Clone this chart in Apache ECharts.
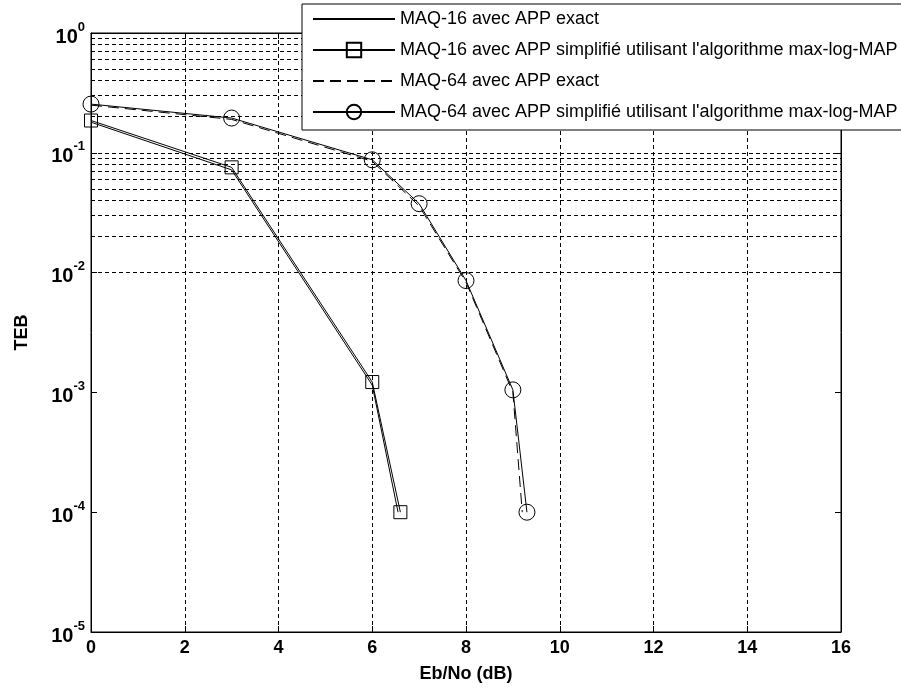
<!DOCTYPE html>
<html>
<head>
<meta charset="utf-8">
<script src="https://cdn.jsdelivr.net/npm/echarts@6/dist/echarts.min.js"></script>
<style>
html,body{margin:0;padding:0;background:#fff;}
#chart{width:901px;height:688px;}
</style>
</head>
<body>
<div id="chart"></div>
<script>
// ---- data ----
const xTicks = [0, 2, 4, 6, 8, 10, 12, 14, 16];
const yDecades = [1e-5, 1e-4, 1e-3, 1e-2, 1e-1, 1];

const seriesNames = [
  'MAQ-16 avec APP exact',
  "MAQ-16 avec APP simplifié utilisant l'algorithme max-log-MAP",
  'MAQ-64 avec APP exact',
  "MAQ-64 avec APP simplifié utilisant l'algorithme max-log-MAP"
];

const snr16Exact = [0, 3, 6, 6.55];
const ber16Exact = [0.18, 0.072, 0.00115, 1.0e-4];
const snr16Max = [0, 3, 6, 6.6];
const ber16Max = [0.186, 0.0756, 0.00122, 1.0e-4];

const snr64Exact = [0, 3, 6, 7, 8, 9, 9.2];
const ber64Exact = [0.25, 0.19, 0.085, 0.036, 0.0083, 0.001, 1.0e-4];
const snr64Max = [0, 3, 6, 7, 8, 9, 9.3];
const ber64Max = [0.255, 0.195, 0.0874, 0.0376, 0.00858, 0.00105, 1.0e-4];

// horizontal grid lines (major decades + minor 2..9 per decade)
const hGrid = [];
for (let k = -5; k <= -1; k++) {
  for (let m = 1; m <= 9; m++) {
    const v = m * Math.pow(10, k);
    if (v > 1e-5) hGrid.push(v);
  }
}
const vGrid = xTicks.filter(v => v > 0 && v < 16);

function pairs(xs, ys) { return xs.map((x, i) => [x, ys[i]]); }

const FONT = '"Liberation Sans", Arial, Helvetica, sans-serif';
const chart = echarts.init(document.getElementById('chart'), null, {renderer: 'canvas'});

const gridLineStyle = {color: '#000', width: 1, type: [4, 3]};
const hidden = {color: 'rgba(0,0,0,0)', borderColor: 'rgba(0,0,0,0)', borderWidth: 0};

chart.setOption({
  backgroundColor: '#fff',
  animation: false,
  textStyle: {fontFamily: FONT, color: '#000'},
  grid: {left: 91, right: 60, top: 33, bottom: 55, show: true, borderColor: '#000', borderWidth: 1, backgroundColor: 'transparent'},
  legend: {
    zlevel: 1, z: 10,
    orient: 'vertical',
    left: 302, top: 4,
    backgroundColor: '#fff',
    borderColor: '#000', borderWidth: 1,
    padding: [6, 12, 9, 10],
    itemWidth: 82, itemHeight: 18, itemGap: 13,
    textStyle: {fontFamily: FONT, fontSize: 18, color: '#000', lineHeight: 18},
    data: seriesNames,
    selectedMode: false
  },
  xAxis: [{
    type: 'value', min: 0, max: 16, interval: 2,
    axisLine: {show: true, onZero: false, lineStyle: {color: '#000', width: 1}},
    axisTick: {show: true, inside: true, length: 6, lineStyle: {color: '#000'}},
    axisLabel: {color: '#000', fontFamily: FONT, fontWeight: 'bold', fontSize: 18, margin: 7},
    splitLine: {show: false},
    name: 'Eb/No (dB)', nameLocation: 'middle', nameGap: 33,
    nameTextStyle: {fontFamily: FONT, fontWeight: 'bold', fontSize: 18, color: '#000'}
  }, {
    type: 'value', min: 0, max: 16, interval: 2, position: 'top',
    axisLine: {show: true, onZero: false, lineStyle: {color: '#000'}},
    axisTick: {show: true, inside: true, length: 6, lineStyle: {color: '#000'}},
    axisLabel: {show: false}, splitLine: {show: false}
  }],
  yAxis: [{
    type: 'log', logBase: 10, min: 1e-5, max: 1,
    axisLine: {show: true, onZero: false, lineStyle: {color: '#000', width: 1}},
    axisTick: {show: true, inside: true, length: 6, lineStyle: {color: '#000'}},
    axisLabel: {
      color: '#000', margin: 6,
      formatter: function (v) {
        const e = Math.round(Math.log10(v));
        return '{b|10}{s|' + e + '}';
      },
      rich: {
        b: {fontFamily: FONT, fontWeight: 'bold', fontSize: 20, color: '#000', padding: [8, 0, 0, 0]},
        s: {fontFamily: FONT, fontWeight: 'bold', fontSize: 13, color: '#000', padding: [0, 0, 12, 0]}
      }
    },
    splitLine: {show: false},
    name: 'TEB', nameLocation: 'middle', nameGap: 60, nameRotate: 90,
    nameTextStyle: {fontFamily: FONT, fontWeight: 'bold', fontSize: 18, color: '#000'}
  }, {
    type: 'log', logBase: 10, min: 1e-5, max: 1, position: 'right',
    axisLine: {show: true, onZero: false, lineStyle: {color: '#000'}},
    axisTick: {show: true, inside: true, length: 6, lineStyle: {color: '#000'}},
    axisLabel: {show: false}, splitLine: {show: false}
  }],
  series: [
    {
      name: '__grid', type: 'line', data: [], silent: true,
      markLine: {
        silent: true, symbol: ['none', 'none'], animation: false,
        label: {show: false},
        lineStyle: gridLineStyle,
        data: hGrid.map(v => ({yAxis: v})).concat(vGrid.map(v => ({xAxis: v})))
      }
    },
    {
      name: seriesNames[0], type: 'line', data: pairs(snr16Exact, ber16Exact),
      symbol: 'circle', showSymbol: false, symbolSize: 0,
      lineStyle: {color: '#000', width: 1, type: 'solid'},
      itemStyle: hidden, z: 3
    },
    {
      name: seriesNames[1], type: 'line', data: pairs(snr16Max, ber16Max),
      symbol: 'rect', symbolSize: 13,
      lineStyle: {color: '#000', width: 1},
      itemStyle: {color: 'rgba(0,0,0,0)', borderColor: '#000', borderWidth: 1}, z: 4
    },
    {
      name: seriesNames[2], type: 'line', data: pairs(snr64Exact, ber64Exact),
      symbol: 'circle', showSymbol: false, symbolSize: 0,
      lineStyle: {color: '#000', width: 1, type: [11, 6]},
      itemStyle: hidden, z: 3
    },
    {
      name: seriesNames[3], type: 'line', data: pairs(snr64Max, ber64Max),
      symbol: 'circle', symbolSize: 16,
      lineStyle: {color: '#000', width: 1},
      itemStyle: {color: 'rgba(0,0,0,0)', borderColor: '#000', borderWidth: 1}, z: 4
    }
  ]
});
</script>
</body>
</html>
